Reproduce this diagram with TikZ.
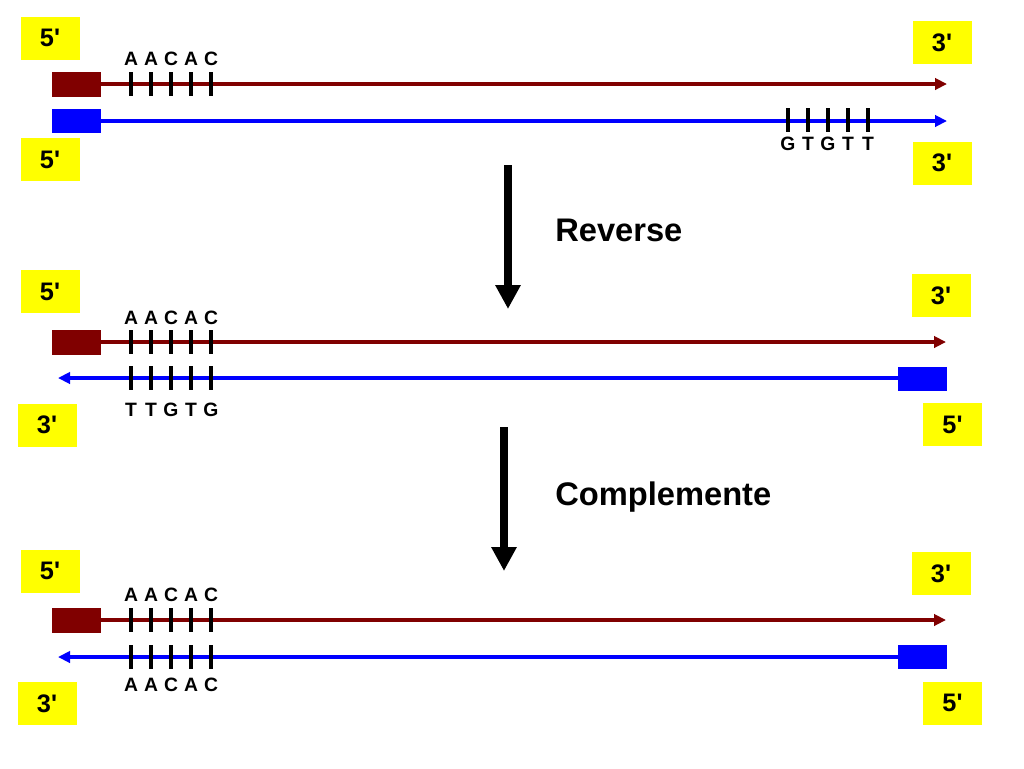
\documentclass[tikz,border=0pt]{standalone}
\usepackage{fontspec}
\setmainfont{Liberation Sans}[Ligatures=TeXOff]
\usetikzlibrary{arrows.meta}
\definecolor{dnared}{RGB}{128,0,0}
\definecolor{dnablue}{RGB}{0,0,255}
\definecolor{labelyellow}{RGB}{255,255,0}
\tikzset{
  endbox/.style={fill=labelyellow, draw=none, minimum width=44.25pt, minimum height=32.25pt, inner sep=0pt, font=\fontsize{19}{20}\selectfont\bfseries},
  redcap/.style={fill=dnared, draw=none, minimum width=36.75pt, minimum height=18.75pt, inner sep=0pt},
  bluecap/.style={fill=dnablue, draw=none, minimum width=36.75pt, minimum height=18pt, inner sep=0pt},
  redstrand/.style={draw=dnared, line width=2.4pt, -{Triangle[length=9pt,width=8.5pt]}},
  bluestrand/.style={draw=dnablue, line width=2.4pt, -{Triangle[length=9pt,width=8.5pt]}},
  tick/.style={draw=black, line width=3pt},
  base/.style={font=\fontsize{14.5}{15}\selectfont\bfseries, inner sep=0pt},
  bigarrow/.style={draw=black, line width=6pt, -{Triangle[length=18pt,width=18pt]}},
  steplabel/.style={font=\fontsize{24.5}{26}\selectfont\bfseries, anchor=west, inner sep=0pt}
}
\begin{document}
\begin{tikzpicture}[x=0.75pt, y=-0.75pt]
\useasboundingbox (0,0) rectangle (1024,768);

% ---------- Panel 1 ----------
\node[endbox] (p1tl) at (50,38) {5'};
\node[endbox] (p1bl) at (50,159.5) {5'};
\node[endbox] (p1tr) at (942,42.5) {3'};
\node[endbox] (p1br) at (942,163) {3'};
\node[redcap] (p1rc) at (76.5,84.5) {};
\node[bluecap] (p1bc) at (76.5,120.5) {};
\coordinate (p1re) at (947,84);
\coordinate (p1be) at (947,121);
\draw[redstrand] (p1rc.east |- 0,84) -- (p1re);
\draw[bluestrand] (p1bc.east |- 0,121) -- (p1be);
\foreach \x/\l in {131/A,151/A,171/C,191/A,211/C}{
  \draw[tick] (\x,72) -- (\x,96);
  \node[base] at (\x,59) {\l};
}
\foreach \x/\l in {788/G,808/T,828/G,848/T,868/T}{
  \draw[tick] (\x,108) -- (\x,132);
  \node[base] at (\x,144) {\l};
}

% ---------- Arrow 1 ----------
\coordinate (a1s) at (508,165);
\coordinate (a1e) at (508,309);
\draw[bigarrow] (a1s) -- (a1e);
\node[steplabel] (rev) at (555,230) {Reverse};

% ---------- Panel 2 ----------
\node[endbox] (p2tl) at (50,291.5) {5'};
\node[endbox] (p2bl) at (47,425) {3'};
\node[endbox] (p2tr) at (941,295.5) {3'};
\node[endbox] (p2br) at (952.5,424.5) {5'};
\node[redcap] (p2rc) at (76,342) {};
\node[bluecap] (p2bc) at (922.5,378.5) {};
\coordinate (p2re) at (946,342);
\coordinate (p2be) at (58,378);
\draw[redstrand] (p2rc.east |- 0,342) -- (p2re);
\draw[bluestrand] (p2bc.west |- 0,378) -- (p2be);
\foreach \x/\l in {131/A,151/A,171/C,191/A,211/C}{
  \draw[tick] (\x,330) -- (\x,354);
  \node[base] at (\x,318) {\l};
}
\foreach \x/\l in {131/T,151/T,171/G,191/T,211/G}{
  \draw[tick] (\x,366) -- (\x,390);
  \node[base] at (\x,410) {\l};
}

% ---------- Arrow 2 ----------
\coordinate (a2s) at (504,427);
\coordinate (a2e) at (504,571);
\draw[bigarrow] (a2s) -- (a2e);
\node[steplabel] (comp) at (555,497) {Complemente};

% ---------- Panel 3 ----------
\node[endbox] (p3tl) at (50,571) {5'};
\node[endbox] (p3bl) at (47,703.5) {3'};
\node[endbox] (p3tr) at (941,573.5) {3'};
\node[endbox] (p3br) at (952.5,703) {5'};
\node[redcap] (p3rc) at (76,620) {};
\node[bluecap] (p3bc) at (922.5,656.5) {};
\coordinate (p3re) at (946,620);
\coordinate (p3be) at (58,657);
\draw[redstrand] (p3rc.east |- 0,620) -- (p3re);
\draw[bluestrand] (p3bc.west |- 0,657) -- (p3be);
\foreach \x/\l in {131/A,151/A,171/C,191/A,211/C}{
  \draw[tick] (\x,608) -- (\x,632);
  \node[base] at (\x,595) {\l};
}
\foreach \x/\l in {131/A,151/A,171/C,191/A,211/C}{
  \draw[tick] (\x,645) -- (\x,669);
  \node[base] at (\x,685) {\l};
}
\end{tikzpicture}
\end{document}
